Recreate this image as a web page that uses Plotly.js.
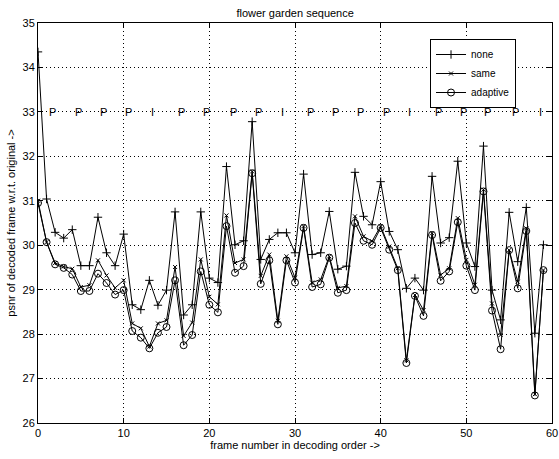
<!DOCTYPE html>
<html>
<head>
<meta charset="utf-8">
<script src="https://cdn.plot.ly/plotly-3.0.1.min.js"></script>
<style>html,body{margin:0;padding:0;background:#fff;}#chart{width:559px;height:459px;}</style>
</head>
<body>
<div id="chart"></div>
<script>
var frames = [0,1,2,3,4,5,6,7,8,9,10,11,12,13,14,15,16,17,18,19,20,21,22,23,24,25,26,27,28,29,30,31,32,33,34,35,36,37,38,39,40,41,42,43,44,45,46,47,48,49,50,51,52,53,54,55,56,57,58,59];
var noneVals = [34.35,31.04,30.29,30.16,30.35,29.54,29.54,30.63,29.83,29.54,30.25,28.66,28.55,29.21,28.65,28.99,30.75,28.43,28.66,30.75,29.26,29.16,31.77,30.01,30.10,32.78,29.68,30.13,30.28,30.28,29.83,31.60,29.79,29.83,30.76,29.46,29.53,31.64,30.65,30.46,31.43,30.31,29.90,29.03,29.26,28.99,31.55,30.05,30.17,31.89,30.05,29.52,32.23,28.99,28.32,30.74,29.63,30.85,28.02,30.01];
var sameVals = [31.00,30.07,29.60,29.52,29.47,29.06,29.10,29.66,29.32,29.04,29.21,28.24,28.13,27.72,28.24,28.31,29.51,27.96,28.26,29.68,28.84,28.67,30.67,29.60,29.68,31.66,29.31,29.79,28.30,29.75,29.27,30.43,29.16,29.23,29.75,29.04,29.08,30.65,30.20,30.09,30.43,29.97,29.48,27.41,28.88,28.54,30.27,29.33,29.48,30.61,29.67,29.11,31.25,28.69,27.98,29.89,29.18,30.38,26.65,29.44];
var adaptiveVals = [30.95,30.07,29.57,29.49,29.34,28.97,28.97,29.36,29.15,28.89,28.99,28.07,27.92,27.68,28.03,28.16,29.21,27.75,27.98,29.41,28.66,28.49,30.43,29.38,29.53,31.62,29.13,29.66,28.22,29.66,29.16,30.39,29.06,29.12,29.72,28.93,28.99,30.50,30.10,30.01,30.39,29.90,29.44,27.35,28.86,28.41,30.23,29.20,29.41,30.52,29.54,28.99,31.21,28.53,27.66,29.89,29.03,30.32,26.62,29.44];
var typePos = [1.75,4.7,7.7,10.6,13.4,16.8,19.7,22.8,25.7,28.5,31.8,34.7,37.7,40.7,43.4,46.7,49.7,52.5,55.7,58.6];
var typeLabels = ['P','P','P','P','I','P','P','P','P','I','P','P','P','P','I','P','P','P','P','I'];
var typeLevel = 33;

var font = 'Liberation Sans, Arial, Helvetica, sans-serif';
var lineStyle = {color:'#000', width:1};
var traces = [
  {x: frames, y: noneVals, name: 'none', mode: 'lines+markers', line: lineStyle,
   marker: {symbol: 'cross-thin-open', size: 6, color: '#000', line: {color:'#000', width: 1}}},
  {x: frames, y: sameVals, name: 'same', mode: 'lines+markers', line: lineStyle,
   marker: {symbol: 'x-thin-open', size: 4, color: '#000', line: {color:'#000', width: 1}}},
  {x: frames, y: adaptiveVals, name: 'adaptive', mode: 'lines+markers', line: lineStyle,
   marker: {symbol: 'circle-open', size: 7, color: '#000', line: {color:'#000', width: 1}}}
];
var annotations = typePos.map(function(p, i){
  return {x: p, y: typeLevel, xref: 'x', yref: 'y', text: typeLabels[i], showarrow: false,
    xanchor: 'center', yanchor: 'middle', bgcolor: 'rgba(255,255,255,0)',
    font: {family: font, size: 11, color: '#000'}};
});
var axisCommon = {
  showline: true, linecolor: '#000', linewidth: 1, mirror: 'ticks',
  ticks: 'inside', ticklen: 5, tickcolor: '#000',
  showgrid: true, gridcolor: '#000', gridwidth: 1, griddash: '1px,3px',
  zeroline: false, tickfont: {family: font, size: 11, color: '#000'}
};
var layout = {
  width: 559, height: 459,
  margin: {l: 38, r: 7, t: 23, b: 36},
  paper_bgcolor: '#fff', plot_bgcolor: '#fff',
  font: {family: font, color: '#000', size: 11},
  title: {text: 'flower garden sequence', font: {family: font, size: 11, color: '#000'}, x: 0.528, xanchor: 'center', y: 0.972, yanchor: 'middle'},
  xaxis: Object.assign({}, axisCommon, {range: [0, 60], dtick: 10, tick0: 0,
    title: {text: 'frame number in decoding order ->', font: {family: font, size: 11, color: '#000'}, standoff: 2}}),
  yaxis: Object.assign({}, axisCommon, {range: [26, 35], dtick: 1, tick0: 26,
    title: {text: 'psnr of decoded frame w.r.t. original ->', font: {family: font, size: 11, color: '#000'}, standoff: 4}}),
  legend: {x: 0.93, y: 0.96, xanchor: 'right', yanchor: 'top', bgcolor: '#fff', bordercolor: '#000', borderwidth: 1,
    font: {family: font, size: 10, color: '#000'}, tracegroupgap: 0, itemwidth: 30},
  annotations: annotations,
  showlegend: true
};
Plotly.newPlot('chart', traces, layout, {displayModeBar: false, staticPlot: true});
</script>
</body>
</html>
